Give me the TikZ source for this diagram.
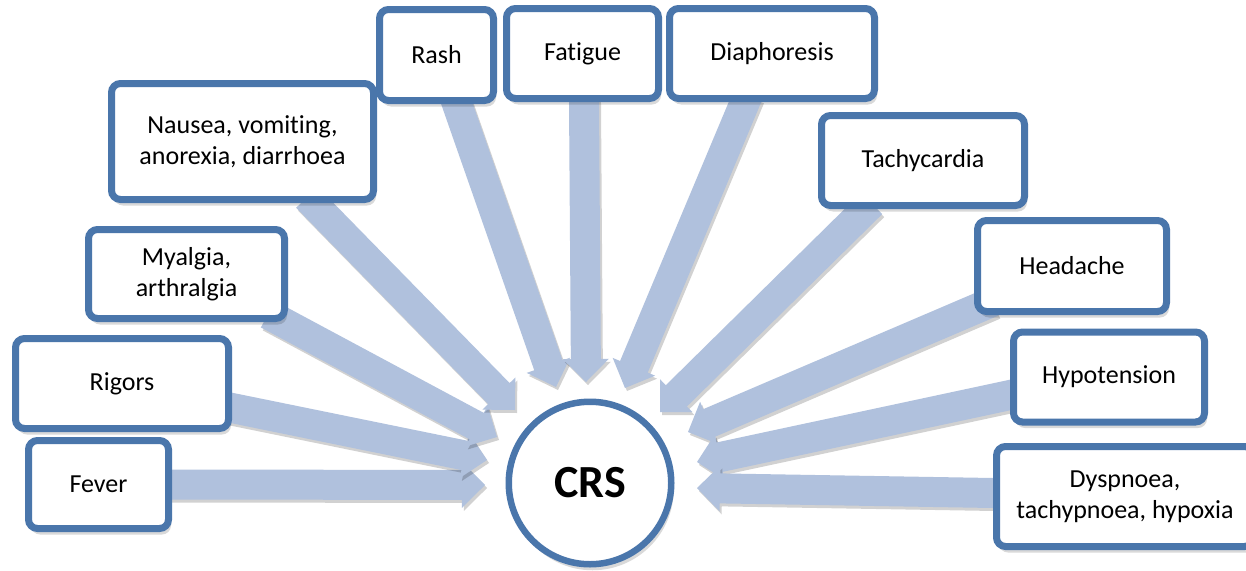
\documentclass[tikz,border=0pt]{standalone}
\usepackage{fontspec}
\setmainfont{Carlito}[Ligatures=NoCommon]
\usetikzlibrary{calc,shadows}
\pgfdeclarelayer{background}
\pgfsetlayers{background,main}
\definecolor{bordc}{RGB}{74,118,171}
\definecolor{arrc}{RGB}{176,193,221}
\tikzset{
  symbox/.style={draw=bordc, line width=7pt, rounded corners=9pt, fill=white,
    align=center, inner sep=0pt, text=black,
    font=\fontsize{26}{31}\selectfont,
    drop shadow={shadow xshift=2.5pt, shadow yshift=-6pt, opacity=0.15, fill=black}},
  crsnode/.style={circle, draw=bordc, line width=6.5pt, fill=white,
    minimum size=162.5pt, inner sep=0pt, text=black,
    font=\fontsize{46}{50}\selectfont\bfseries,
    drop shadow={shadow xshift=2.5pt, shadow yshift=-6pt, opacity=0.15, fill=black}},
  arrowshape/.style={fill=arrc,
    drop shadow={shadow xshift=2pt, shadow yshift=-3pt, opacity=0.18, fill=black}}
}
\newcommand\blockarrow[2]{%
  \coordinate (ba-a) at ($(#1)!-8pt!(#2)$);
  \coordinate (ba-h) at ($(#2)!23pt!(#1)$);
  \fill[arrowshape] ($(ba-a)!15pt!90:(#2)$) -- ($(ba-h)!15pt!-90:(ba-a)$)
    -- ($(ba-h)!23pt!-90:(ba-a)$) -- (#2) -- ($(ba-h)!23pt!90:(ba-a)$)
    -- ($(ba-h)!15pt!90:(ba-a)$) -- ($(ba-a)!15pt!-90:(#2)$) -- cycle;
}
\begin{document}
\begin{tikzpicture}[x=1pt,y=-1pt]
\useasboundingbox (0,0) rectangle (1246,570);

% nodes
\node[symbox, minimum width=140pt, minimum height=88pt] (fever) at (98.5,484.5) {Fever};
\node[symbox, minimum width=213pt, minimum height=90pt] (rigors) at (122,383.5) {Rigors};
\node[symbox, minimum width=196pt, minimum height=89pt] (myalgia) at (186.5,274) {Myalgia,\\arthralgia};
\node[symbox, minimum width=262pt, minimum height=116pt] (nausea) at (242.5,141.5) {Nausea, vomiting,\\anorexia, diarrhoea};
\node[symbox, minimum width=114pt, minimum height=91pt] (rash) at (436.5,55) {Rash};
\node[symbox, minimum width=152pt, minimum height=90pt] (fatigue) at (582.5,53.5) {Fatigue};
\node[symbox, minimum width=205pt, minimum height=90pt] (diaph) at (772,53.5) {Diaphoresis};
\node[symbox, minimum width=203pt, minimum height=90pt] (tachy) at (923,160.5) {Tachycardia};
\node[symbox, minimum width=189pt, minimum height=91pt] (headache) at (1072,266) {Headache};
\node[symbox, minimum width=191pt, minimum height=90pt] (hypo) at (1109,377) {Hypotension};
\node[symbox, minimum width=257pt, minimum height=100pt] (dysp) at (1125,496.5) {Dyspnoea,\\tachypnoea, hypoxia};
\node[crsnode] (crs) at (590,483) {CRS};

% arrow ends
\coordinate (s1) at (fever.east);
\coordinate (s2) at ($(rigors.east)+(0,24.5)$);
\coordinate (s3) at ($(myalgia.south east)+(-13,-4)$);
\coordinate (s4) at ($(nausea.south)+(70,0)$);
\coordinate (s5) at ($(rash.south)+(20.5,0)$);
\coordinate (s6) at ($(fatigue.south)+(1.5,0)$);
\coordinate (s7) at ($(diaph.south)+(-27,0)$);
\coordinate (s8) at ($(tachy.south)+(-57,0)$);
\coordinate (s9) at ($(headache.west)+(11,39)$);
\coordinate (s10) at ($(hypo.west)+(0,18)$);
\coordinate (s11) at ($(dysp.west)+(0,-3.5)$);

\coordinate (t1) at ($(crs.center)+(-105,2)$);
\coordinate (t2) at ($(crs.center)+(-103,-23)$);
\coordinate (t3) at ($(crs.center)+(-93,-46)$);
\coordinate (t4) at ($(crs.center)+(-75,-73)$);
\coordinate (t5) at ($(crs.center)+(-34,-96)$);
\coordinate (t6) at ($(crs.center)+(-4,-101)$);
\coordinate (t7) at ($(crs.center)+(35,-95)$);
\coordinate (t8) at ($(crs.center)+(70,-71)$);
\coordinate (t9) at ($(crs.center)+(98,-51)$);
\coordinate (t10) at ($(crs.center)+(107,-21)$);
\coordinate (t11) at ($(crs.center)+(107,5)$);

\begin{pgfonlayer}{background}
\fill[white] (0,0) rectangle (1246,570);
\blockarrow{s1}{t1}
\blockarrow{s2}{t2}
\blockarrow{s3}{t3}
\blockarrow{s4}{t4}
\blockarrow{s5}{t5}
\blockarrow{s6}{t6}
\blockarrow{s7}{t7}
\blockarrow{s8}{t8}
\blockarrow{s9}{t9}
\blockarrow{s10}{t10}
\blockarrow{s11}{t11}
\end{pgfonlayer}
\end{tikzpicture}
\end{document}
